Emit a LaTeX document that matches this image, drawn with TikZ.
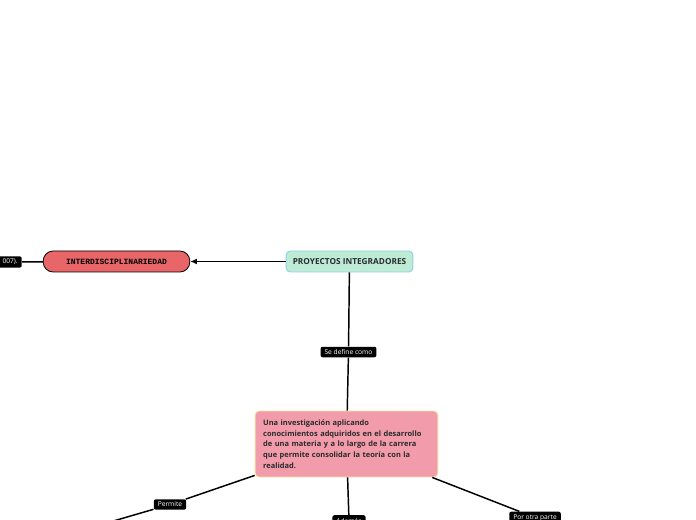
\documentclass[tikz,border=0pt]{standalone}
\usepackage{fontspec}
\setmainfont{Open Sans}
\setmonofont{Liberation Mono}
\usetikzlibrary{arrows.meta}
\definecolor{Mint}{HTML}{BDEBD6}
\definecolor{SkyEdge}{HTML}{8FD3E3}
\definecolor{Coral}{HTML}{E86568}
\definecolor{Rose}{HTML}{F29BAA}
\definecolor{PaleGold}{HTML}{F4E3A3}
\definecolor{DarkText}{HTML}{2B2B2B}
\tikzset{
  topicbox/.style={rounded corners=3pt, draw=SkyEdge, fill=Mint, line width=0.7pt, minimum width=95pt, minimum height=15.75pt, inner sep=1pt, font=\fontsize{6.2}{7}\selectfont\bfseries, text=DarkText},
  redbox/.style={rounded corners=7.5pt, draw=black, fill=Coral, line width=0.6pt, minimum width=110pt, minimum height=15.75pt, inner sep=1pt, font=\fontsize{6}{7}\selectfont\ttfamily\bfseries, text=black},
  pinkbox/.style={rounded corners=3pt, draw=PaleGold, fill=Rose, line width=0.7pt, minimum width=137pt, minimum height=49.5pt, text width=125pt, inner xsep=6pt, align=left, font=\fontsize{5.6}{8.1}\selectfont\bfseries, text=DarkText},
  tag/.style={rounded corners=1.5pt, fill=black, text=white, inner xsep=3pt, inner ysep=2pt, font=\fontsize{5}{6}\selectfont},
  link/.style={line width=1.1pt, draw=black},
  arr/.style={-{Latex[length=5pt,width=4.5pt]}, line width=1.1pt, draw=black}
}
\begin{document}
\begin{tikzpicture}[x=0.75pt,y=-0.75pt]
\useasboundingbox (0,0) rectangle (696,520);
\clip (0,0) rectangle (696,520);
\node[topicbox] (proy) at (349.5,261.5) {PROYECTOS INTEGRADORES};
\node[redbox] (inter) at (116.5,261.5) {INTERDISCIPLINARIEDAD};
\node[tag, text width=40pt, align=right, anchor=east] (cita) at (22,262) {007).};
\node[tag] (define) at (348.5,352) {Se define como};
\node[pinkbox] (inv) at (346.5,444) {Una investigación aplicando\\conocimientos adquiridos en el desarrollo\\de una materia y a lo largo de la carrera\\que permite consolidar la teoría con la\\realidad.};
\node[tag] (permite) at (170,504.5) {Permite};
\node[tag] (ademas) at (349,520.5) {Además};
\node[tag] (otra) at (535,517.5) {Por otra parte};
\coordinate (permfin) at (86,529);
\draw[arr] (proy) -- (inter);
\draw[link] (inter) -- (cita);
\draw[link] (proy) -- (define) -- (inv);
\draw[link] (inv) -- (permite) -- (permfin);
\draw[link] (inv) -- (ademas);
\draw[link] (inv) -- (otra);
\end{tikzpicture}
\end{document}
